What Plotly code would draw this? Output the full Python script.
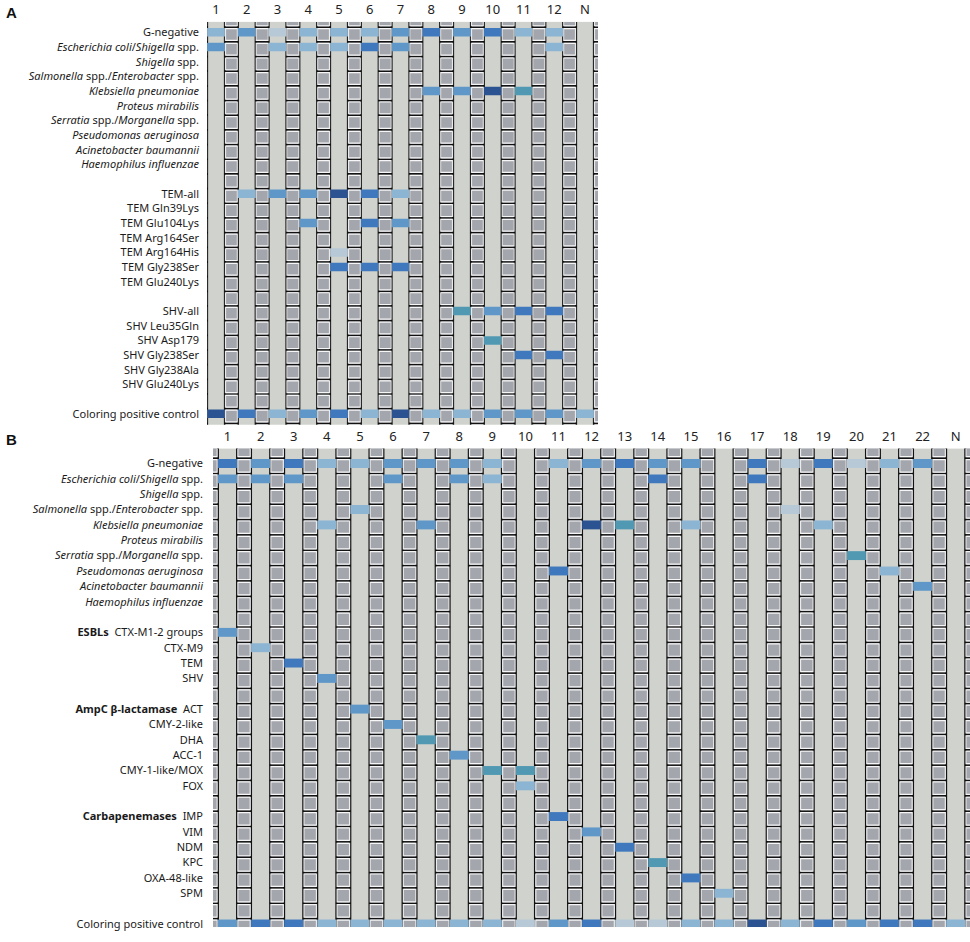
import re
import plotly.graph_objects as go

W, H = 970, 942

# row labels
species = ["G-negative", "Escherichia coli/Shigella spp.", "Shigella spp.",
           "Salmonella spp./Enterobacter spp.", "Klebsiella pneumoniae", "Proteus mirabilis",
           "Serratia spp./Morganella spp.", "Pseudomonas aeruginosa", "Acinetobacter baumannii",
           "Haemophilus influenzae"]
GN, EC, SH, SE, KP, PM, SM, PA, AB, HI = species
tem_a = ["TEM-all", "TEM Gln39Lys", "TEM Glu104Lys", "TEM Arg164Ser", "TEM Arg164His",
         "TEM Gly238Ser", "TEM Glu240Lys"]
shv_a = ["SHV-all", "SHV Leu35Gln", "SHV Asp179", "SHV Gly238Ser", "SHV Gly238Ala", "SHV Glu240Lys"]
esbl_b = ["CTX-M1-2 groups", "CTX-M9", "TEM", "SHV"]
ampc_b = ["ACT", "CMY-2-like", "DHA", "ACC-1", "CMY-1-like/MOX", "FOX"]
carba_b = ["IMP", "VIM", "NDM", "KPC", "OXA-48-like", "SPM"]
CTRL = "Coloring positive control"
heads_b = ["", "ESBLs", "AmpC \u03b2-lactamase", "Carbapenemases", ""]

strips_a = ["1", "2", "3", "4", "5", "6", "7", "8", "9", "10", "11", "12", "N"]
strips_b = ["1", "2", "3", "4", "5", "6", "7", "8", "9", "10", "11", "12", "13", "14", "15",
            "16", "17", "18", "19", "20", "21", "22", "N"]

# bands: (strip, row, intensity 1 faint .. 5 navy, 6 teal)
bands_a = [
    ("1", GN, 2), ("1", EC, 3), ("1", CTRL, 5),
    ("2", GN, 3), ("2", "TEM-all", 2), ("2", CTRL, 4),
    ("3", GN, 1), ("3", EC, 2), ("3", "TEM-all", 3), ("3", CTRL, 2),
    ("4", GN, 2), ("4", EC, 2), ("4", "TEM-all", 3), ("4", "TEM Glu104Lys", 3), ("4", CTRL, 3),
    ("5", GN, 2), ("5", EC, 2), ("5", "TEM-all", 5), ("5", "TEM Arg164His", 1),
    ("5", "TEM Gly238Ser", 4), ("5", CTRL, 4),
    ("6", GN, 2), ("6", EC, 4), ("6", "TEM-all", 4), ("6", "TEM Glu104Lys", 4),
    ("6", "TEM Gly238Ser", 4), ("6", CTRL, 2),
    ("7", GN, 3), ("7", EC, 3), ("7", "TEM-all", 2), ("7", "TEM Glu104Lys", 3),
    ("7", "TEM Gly238Ser", 4), ("7", CTRL, 5),
    ("8", GN, 4), ("8", KP, 3), ("8", CTRL, 2),
    ("9", GN, 3), ("9", KP, 3), ("9", "SHV-all", 6), ("9", CTRL, 2),
    ("10", GN, 4), ("10", KP, 5), ("10", "SHV-all", 3), ("10", "SHV Asp179", 6), ("10", CTRL, 3),
    ("11", GN, 2), ("11", KP, 6), ("11", "SHV-all", 4), ("11", "SHV Gly238Ser", 4), ("11", CTRL, 3),
    ("12", GN, 2), ("12", EC, 2), ("12", "SHV-all", 4), ("12", "SHV Gly238Ser", 4), ("12", CTRL, 3),
    ("N", CTRL, 2),
]

bands_b = [
    ("1", GN, 4), ("1", EC, 3), ("1", "CTX-M1-2 groups", 3), ("1", CTRL, 3),
    ("2", GN, 3), ("2", EC, 3), ("2", "CTX-M9", 2), ("2", CTRL, 4),
    ("3", GN, 4), ("3", EC, 3), ("3", "TEM", 4), ("3", CTRL, 4),
    ("4", GN, 2), ("4", KP, 2), ("4", "SHV", 3), ("4", CTRL, 2),
    ("5", GN, 2), ("5", SE, 2), ("5", "ACT", 3), ("5", CTRL, 2),
    ("6", GN, 3), ("6", EC, 3), ("6", "CMY-2-like", 3), ("6", CTRL, 2),
    ("7", GN, 3), ("7", KP, 3), ("7", "DHA", 6), ("7", CTRL, 2),
    ("8", GN, 3), ("8", EC, 3), ("8", "ACC-1", 3), ("8", CTRL, 2),
    ("9", GN, 2), ("9", EC, 2), ("9", "CMY-1-like/MOX", 6), ("9", CTRL, 2),
    ("10", "CMY-1-like/MOX", 6), ("10", "FOX", 2), ("10", CTRL, 1),
    ("11", GN, 2), ("11", PA, 4), ("11", "IMP", 4), ("11", CTRL, 3),
    ("12", GN, 3), ("12", KP, 5), ("12", "VIM", 3), ("12", CTRL, 4),
    ("13", GN, 4), ("13", KP, 6), ("13", "NDM", 4), ("13", CTRL, 1),
    ("14", GN, 3), ("14", EC, 4), ("14", "KPC", 6), ("14", CTRL, 1),
    ("15", GN, 3), ("15", KP, 2), ("15", "OXA-48-like", 4), ("15", CTRL, 2),
    ("16", "SPM", 2), ("16", CTRL, 2),
    ("17", GN, 4), ("17", EC, 4), ("17", CTRL, 5),
    ("18", GN, 1), ("18", SE, 1), ("18", CTRL, 2),
    ("19", GN, 4), ("19", KP, 2), ("19", CTRL, 4),
    ("20", GN, 1), ("20", SM, 6), ("20", CTRL, 3),
    ("21", GN, 2), ("21", PA, 2), ("21", CTRL, 4),
    ("22", GN, 3), ("22", AB, 3), ("22", CTRL, 4),
    ("N", CTRL, 2),
]

# styles
BAND_COLORS = {1: "#b7c8d6", 2: "#8cb4d3", 3: "#5f97c9", 4: "#3f78bc", 5: "#2b5391", 6: "#5199b2"}
STRIP_COLOR = "#d0d3cd"
CELL_COLOR = "#a4a6ae"
FONT = "Noto Sans"


def fmt(name):
    if name in species[1:]:
        parts = re.split(r"(\s|/)", name)
        return "".join(p if p in ("", " ", "/", "spp.") else "<i>" + p + "</i>" for p in parts)
    return name


def row_positions(groups):
    pos, r = {}, 0
    for g in groups:
        for name in g:
            pos[name] = r
            r += 1
        r += 1
    return pos


# pixel geometry of each photo: left, right, top, bottom, first strip x, strip pitch,
# first row y, row pitch, inner ladder width
panels = [
    dict(strips=strips_a, groups=[species, tem_a, shv_a, [CTRL]], heads=None, bands=bands_a,
         px=(207, 598, 21, 426, 216, 30.75, 31.5, 14.75, 13), letter="A", standoff=7),
    dict(strips=strips_b, groups=[species, esbl_b, ampc_b, carba_b, [CTRL]], heads=heads_b,
         bands=bands_b, px=(213, 970, 450, 931, 227.5, 33.1, 465, 15.43, 14), letter="B", standoff=9),
]

fig = go.Figure()
layout = dict(width=W, height=H, margin=dict(l=0, r=0, t=0, b=0, pad=0), showlegend=False,
              paper_bgcolor="white", plot_bgcolor=STRIP_COLOR, barmode="overlay",
              font=dict(family=FONT, color="#1a1a1a"))
annotations = []

for k, p in enumerate(panels):
    left, right, top, bottom, sx0, sdx, ry0, rdy, lw = p["px"]
    xa = "x" if k == 0 else "x2"
    ya = "y" if k == 0 else "y2"
    pos = row_positions(p["groups"])
    nstrips = len(p["strips"])
    xr = [1 + (left - sx0) / sdx, 1 + (right - sx0) / sdx]
    yr = [(bottom - ry0) / rdy, (top - ry0) / rdy]
    xidx = {s: i + 1 for i, s in enumerate(p["strips"])}
    lx = [i + 0.5 for i in range(nstrips + 1)]
    shift = 0.15

    # ladder bodies between the strips
    fig.add_trace(go.Bar(x=lx, y=[yr[0] - yr[1] + 4] * len(lx), base=[yr[1] - 2] * len(lx),
                         width=lw / sdx, xaxis=xa, yaxis=ya, hoverinfo="skip",
                         marker=dict(color=CELL_COLOR, line=dict(color="#121212", width=2))))

    # bands on the strips
    bh = 0.58
    fig.add_trace(go.Bar(
        x=[xidx[b[0]] for b in p["bands"]],
        y=[bh] * len(p["bands"]),
        base=[pos[b[1]] - bh / 2 for b in p["bands"]],
        width=1 - lw / sdx,
        marker=dict(color=[BAND_COLORS[b[2]] for b in p["bands"]], line=dict(width=0)),
        xaxis=xa, yaxis=ya, hoverinfo="skip"))

    # cell separators and inner highlights
    nrows = int(yr[0]) + 2
    sx, sy, cx, cy = [], [], [], []
    for x in lx:
        for r in range(-1, nrows + 1):
            sx.append(x)
            sy.append(r + shift + 0.5)
            cx.append(x)
            cy.append(r + shift)
    fig.add_trace(go.Scatter(x=sx, y=sy, mode="markers", xaxis=xa, yaxis=ya, hoverinfo="skip",
                             marker=dict(symbol="line-ew", size=(lw + 1) / 1.4, color="#121212",
                                         line=dict(color="#121212", width=1.6))))
    fig.add_trace(go.Scatter(x=cx, y=cy, mode="markers", xaxis=xa, yaxis=ya, hoverinfo="skip",
                             marker=dict(symbol="square-open", size=min(lw, rdy - 2) - 1.0,
                                         color="rgba(255,255,255,0.9)",
                                         line=dict(color="rgba(255,255,255,0.9)", width=1.2))))

    # tick labels
    tickvals, ticktext = [], []
    for gi, g in enumerate(p["groups"]):
        for j, name in enumerate(g):
            t = fmt(name)
            if p["heads"] and j == 0 and p["heads"][gi]:
                t = "<b>" + p["heads"][gi] + "</b>  " + t
            tickvals.append(pos[name])
            ticktext.append(t)

    key = "" if k == 0 else "2"
    layout["xaxis" + key] = dict(domain=[left / W, right / W], range=xr, anchor=ya, side="top",
                                 tickvals=list(range(1, nstrips + 1)), ticktext=p["strips"],
                                 ticks="", showgrid=False, zeroline=False, showline=False,
                                 ticklabelstandoff=4, tickfont=dict(size=13, color="#222"),
                                 fixedrange=True)
    layout["yaxis" + key] = dict(domain=[1 - bottom / H, 1 - top / H], range=yr, anchor=xa,
                                 tickvals=tickvals, ticktext=ticktext, ticks="", showgrid=False,
                                 zeroline=False, showline=False, ticklabelstandoff=p["standoff"],
                                 tickfont=dict(size=11, color="#1a1a1a"), fixedrange=True)
    annotations.append(dict(text="<b>" + p["letter"] + "</b>", xref="paper", yref="paper",
                            x=4 / W, y=1 - (top - 9) / H, xanchor="left", yanchor="middle",
                            showarrow=False, font=dict(size=15, family="Liberation Sans", color="#111")))

layout["annotations"] = annotations
fig.update_layout(**layout)
fig.write_html("out.html", config={"displayModeBar": False},
               post_script="document.body.style.margin='0px';")
